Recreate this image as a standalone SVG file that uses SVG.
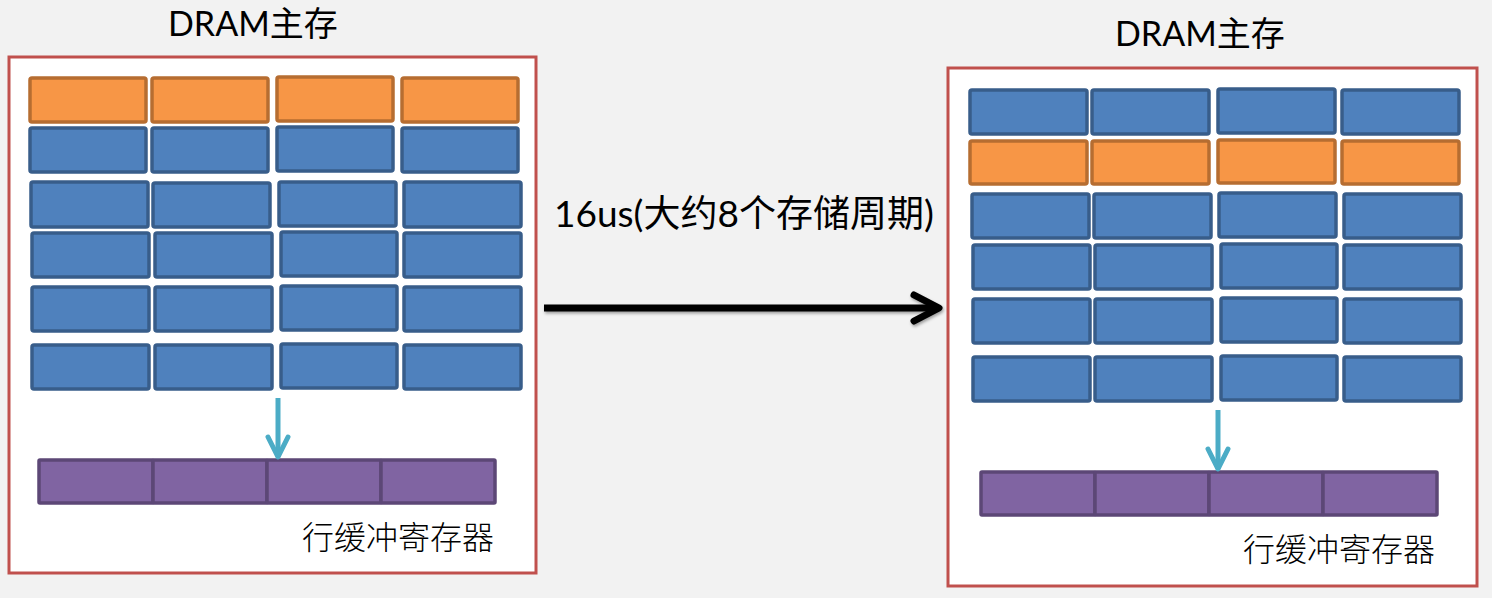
<svg xmlns="http://www.w3.org/2000/svg" width="1492" height="598" viewBox="0 0 1492 598">
  <defs>
    <style>
      .panel { fill: #ffffff; stroke: #c0504d; stroke-width: 3; }
      .blue { fill: #4f81bd; stroke: #385d8a; stroke-width: 3.5; }
      .orange { fill: #f79646; stroke: #b66d31; stroke-width: 3.5; }
      .buf { fill: #8064a2; stroke: #5c4776; stroke-width: 3.5; }
      .title { font-family: Lato, "Noto Sans CJK SC", sans-serif; font-size: 34px; fill: #000000; }
      .label { font-family: Lato, "Noto Sans CJK SC", sans-serif; font-size: 37px; fill: #000000; }
      .cap { font-family: "Noto Sans CJK SC", sans-serif; font-size: 32px; font-weight: 300; fill: #000000; }
      .big { stroke: #000000; stroke-width: 7; fill: none; }
      .small { stroke: #4bacc6; stroke-width: 5; fill: none; }
    </style>
    <marker id="headBlack" markerUnits="userSpaceOnUse" markerWidth="40" markerHeight="40" viewBox="-32 -20 40 40" refX="0" refY="0" orient="auto" overflow="visible">
      <path d="M -25 -13 L 0 0 L -25 13" fill="none" stroke="#000000" stroke-width="7" stroke-linecap="round" stroke-linejoin="round"/>
    </marker>
    <marker id="headCyan" markerUnits="userSpaceOnUse" markerWidth="40" markerHeight="40" viewBox="-30 -20 40 40" refX="0" refY="0" orient="auto" overflow="visible">
      <path d="M -20 -10 L 0 0 L -20 10" fill="none" stroke="#4bacc6" stroke-width="5" stroke-linecap="round" stroke-linejoin="round"/>
    </marker>
    <filter id="shadow" filterUnits="userSpaceOnUse" x="520" y="270" width="450" height="80">
      <feDropShadow dx="1" dy="2" stdDeviation="1.5" flood-color="#000000" flood-opacity="0.35"/>
    </filter>
  </defs>

  <rect x="0" y="0" width="1492" height="598" fill="#f2f2f2"/>

  <g id="left-panel">
    <rect class="panel" x="9" y="57" width="527" height="516"/>
    <text class="title" x="168" y="36">DRAM主存</text>
    <g id="left-row1">
      <rect class="orange" x="30" y="78" width="116" height="44" rx="2"/>
      <rect class="orange" x="152" y="78" width="116" height="44" rx="2"/>
      <rect class="orange" x="277" y="77" width="116" height="44" rx="2"/>
      <rect class="orange" x="402" y="78" width="116" height="44" rx="2"/>
    </g>
    <g id="left-row2">
      <rect class="blue" x="30" y="128" width="116" height="44" rx="2"/>
      <rect class="blue" x="152" y="128" width="116" height="44" rx="2"/>
      <rect class="blue" x="277" y="127" width="116" height="44" rx="2"/>
      <rect class="blue" x="402" y="128" width="116" height="44" rx="2"/>
    </g>
    <g id="left-row3">
      <rect class="blue" x="31" y="182" width="117" height="45" rx="2"/>
      <rect class="blue" x="153" y="183" width="117" height="44" rx="2"/>
      <rect class="blue" x="279" y="182" width="117" height="44" rx="2"/>
      <rect class="blue" x="404" y="182" width="117" height="45" rx="2"/>
    </g>
    <g id="left-row4">
      <rect class="blue" x="32" y="233" width="117" height="44" rx="2"/>
      <rect class="blue" x="155" y="233" width="117" height="44" rx="2"/>
      <rect class="blue" x="281" y="232" width="116" height="44" rx="2"/>
      <rect class="blue" x="404" y="233" width="117" height="44" rx="2"/>
    </g>
    <g id="left-row5">
      <rect class="blue" x="32" y="287" width="117" height="44" rx="2"/>
      <rect class="blue" x="155" y="287" width="117" height="44" rx="2"/>
      <rect class="blue" x="281" y="286" width="116" height="44" rx="2"/>
      <rect class="blue" x="404" y="287" width="117" height="44" rx="2"/>
    </g>
    <g id="left-row6">
      <rect class="blue" x="32" y="345" width="117" height="44" rx="2"/>
      <rect class="blue" x="155" y="345" width="117" height="44" rx="2"/>
      <rect class="blue" x="281" y="344" width="116" height="44" rx="2"/>
      <rect class="blue" x="404" y="345" width="117" height="44" rx="2"/>
    </g>
    <g id="left-buffer">
      <rect class="buf" x="39" y="460" width="114" height="43" rx="1"/>
      <rect class="buf" x="153" y="460" width="114" height="43" rx="1"/>
      <rect class="buf" x="267" y="460" width="114" height="43" rx="1"/>
      <rect class="buf" x="381" y="460" width="114" height="43" rx="1"/>
    </g>
    <text class="cap" x="302" y="549">行缓冲寄存器</text>
  </g>

  <g id="right-panel">
    <rect class="panel" x="948" y="68" width="529" height="518"/>
    <text class="title" x="1115" y="46">DRAM主存</text>
    <g id="right-row1">
      <rect class="blue" x="970" y="90" width="117" height="44" rx="2"/>
      <rect class="blue" x="1092" y="90" width="117" height="44" rx="2"/>
      <rect class="blue" x="1218" y="89" width="117" height="44" rx="2"/>
      <rect class="blue" x="1342" y="90" width="117" height="44" rx="2"/>
    </g>
    <g id="right-row2">
      <rect class="orange" x="970" y="141" width="117" height="43" rx="2"/>
      <rect class="orange" x="1092" y="141" width="117" height="43" rx="2"/>
      <rect class="orange" x="1218" y="140" width="117" height="43" rx="2"/>
      <rect class="orange" x="1342" y="141" width="117" height="43" rx="2"/>
    </g>
    <g id="right-row3">
      <rect class="blue" x="972" y="194" width="117" height="44" rx="2"/>
      <rect class="blue" x="1094" y="194" width="117" height="44" rx="2"/>
      <rect class="blue" x="1219" y="193" width="117" height="44" rx="2"/>
      <rect class="blue" x="1344" y="194" width="117" height="44" rx="2"/>
    </g>
    <g id="right-row4">
      <rect class="blue" x="973" y="245" width="117" height="44" rx="2"/>
      <rect class="blue" x="1095" y="245" width="117" height="44" rx="2"/>
      <rect class="blue" x="1221" y="244" width="116" height="44" rx="2"/>
      <rect class="blue" x="1344" y="245" width="117" height="44" rx="2"/>
    </g>
    <g id="right-row5">
      <rect class="blue" x="973" y="299" width="117" height="44" rx="2"/>
      <rect class="blue" x="1095" y="299" width="117" height="44" rx="2"/>
      <rect class="blue" x="1221" y="298" width="116" height="44" rx="2"/>
      <rect class="blue" x="1344" y="299" width="117" height="44" rx="2"/>
    </g>
    <g id="right-row6">
      <rect class="blue" x="973" y="357" width="117" height="44" rx="2"/>
      <rect class="blue" x="1095" y="357" width="117" height="44" rx="2"/>
      <rect class="blue" x="1221" y="356" width="116" height="44" rx="2"/>
      <rect class="blue" x="1344" y="357" width="117" height="44" rx="2"/>
    </g>
    <g id="right-buffer">
      <rect class="buf" x="981" y="472" width="114" height="43" rx="1"/>
      <rect class="buf" x="1095" y="472" width="114" height="43" rx="1"/>
      <rect class="buf" x="1209" y="472" width="114" height="43" rx="1"/>
      <rect class="buf" x="1323" y="472" width="114" height="43" rx="1"/>
    </g>
    <text class="cap" x="1243" y="561">行缓冲寄存器</text>
  </g>

  <g id="transition-label">
    <text class="label" x="554" y="227">16us(大约8个存储周期)</text>
  </g>

  <g id="connectors">
    <g filter="url(#shadow)">
      <line class="big" x1="544" y1="308" x2="939" y2="308" marker-end="url(#headBlack)"/>
    </g>
    <line class="small" x1="278" y1="398" x2="278" y2="457" marker-end="url(#headCyan)"/>
    <line class="small" x1="1218" y1="410" x2="1218" y2="469" marker-end="url(#headCyan)"/>
  </g>
</svg>
